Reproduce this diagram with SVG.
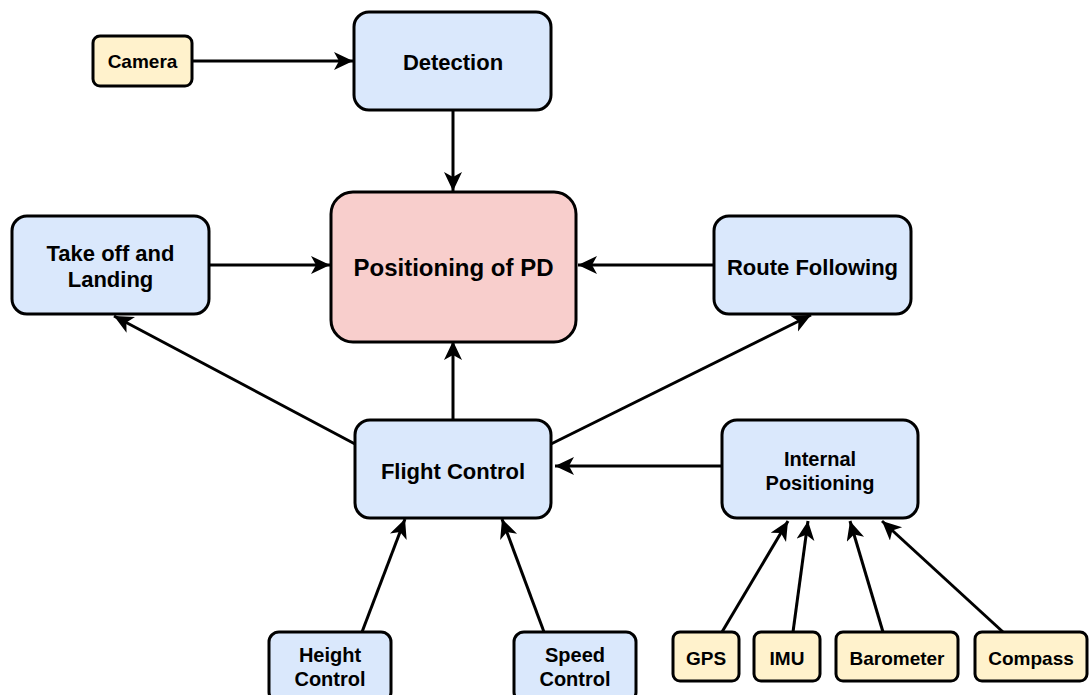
<svg xmlns="http://www.w3.org/2000/svg" width="1089" height="695" viewBox="0 0 1089 695">
<style>
.b{fill:#dae8fc;stroke:#000;stroke-width:3}
.y{fill:#fff2cc;stroke:#000;stroke-width:3}
.r{fill:#f8cecc;stroke:#000;stroke-width:3}
text{font-family:"Liberation Sans",Arial,sans-serif;font-weight:bold;fill:#000;text-anchor:middle}
.t22{font-size:22px}
.t24{font-size:24px}
.t20{font-size:20px}
.t19{font-size:19px}
.c line{stroke:#000;stroke-width:3;marker-end:url(#a)}
</style>
<defs>
<marker id="a" markerUnits="userSpaceOnUse" markerWidth="20" markerHeight="20" refX="19" refY="9" orient="auto">
<path d="M0,0 L19,9 L0,18 L5,9 z" fill="#000"/>
</marker>
</defs>
<rect width="1089" height="695" fill="#fff"/>
<g class="c" id="connectors">
<line x1="192" y1="61" x2="353" y2="61"/>
<line x1="453" y1="110" x2="453" y2="191"/>
<line x1="209" y1="265" x2="330" y2="265"/>
<line x1="714" y1="265" x2="578" y2="265"/>
<line x1="453" y1="420" x2="453" y2="341"/>
<line x1="355" y1="444" x2="114" y2="316"/>
<line x1="551" y1="444" x2="811" y2="315"/>
<line x1="722" y1="466" x2="555" y2="466"/>
<line x1="362" y1="632" x2="405" y2="519"/>
<line x1="544" y1="632" x2="502" y2="519"/>
<line x1="722" y1="632" x2="788" y2="521"/>
<line x1="793" y1="632" x2="808" y2="521"/>
<line x1="883" y1="632" x2="850" y2="521"/>
<line x1="1003" y1="632" x2="882" y2="521"/>
</g>
<g id="camera"><rect class="y" x="93" y="36" width="99" height="50" rx="7"/><text class="t19" x="142.5" y="68">Camera</text></g>
<g id="detection"><rect class="b" x="354" y="12" width="197" height="98" rx="15"/><text class="t22" x="453" y="69.5">Detection</text></g>
<g id="positioning"><rect class="r" x="331" y="192" width="245" height="150" rx="22"/><text class="t24" x="453.5" y="275.5">Positioning of PD</text></g>
<g id="takeoff"><rect class="b" x="12" y="216" width="197" height="98" rx="15"/><text class="t22" x="110.5" y="261">Take off and</text><text class="t22" x="110.5" y="287">Landing</text></g>
<g id="route"><rect class="b" x="714" y="216" width="197" height="98" rx="15"/><text class="t22" x="812.5" y="274.5">Route Following</text></g>
<g id="flight"><rect class="b" x="355" y="420" width="196" height="98" rx="15"/><text class="t22" x="453" y="478.5">Flight Control</text></g>
<g id="internal"><rect class="b" x="722" y="420" width="196" height="98" rx="15"/><text class="t20" x="820" y="466">Internal</text><text class="t20" x="820" y="490">Positioning</text></g>
<g id="height"><rect class="b" x="269" y="632" width="122" height="70" rx="10"/><text class="t20" x="330" y="662">Height</text><text class="t20" x="330" y="686">Control</text></g>
<g id="speed"><rect class="b" x="514" y="632" width="122" height="70" rx="10"/><text class="t20" x="575" y="662">Speed</text><text class="t20" x="575" y="686">Control</text></g>
<g id="gps"><rect class="y" x="673" y="632" width="66" height="49" rx="7"/><text class="t19" x="706" y="664.5">GPS</text></g>
<g id="imu"><rect class="y" x="754" y="632" width="66" height="49" rx="7"/><text class="t19" x="787" y="664.5">IMU</text></g>
<g id="barometer"><rect class="y" x="836" y="632" width="122" height="49" rx="7"/><text class="t19" x="897" y="664.5">Barometer</text></g>
<g id="compass"><rect class="y" x="975" y="632" width="112" height="49" rx="7"/><text class="t19" x="1031" y="664.5">Compass</text></g>
</svg>
